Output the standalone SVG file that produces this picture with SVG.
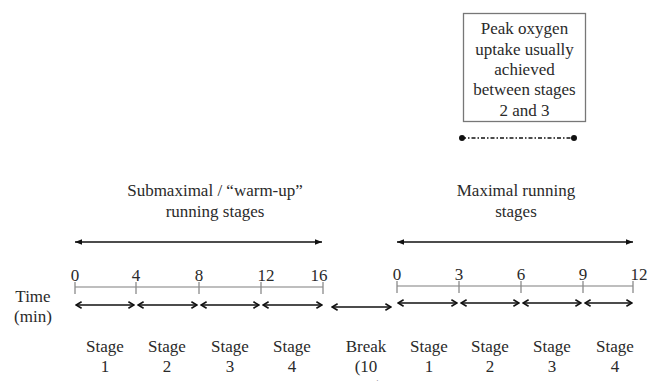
<svg xmlns="http://www.w3.org/2000/svg" width="657" height="381" viewBox="0 0 657 381">
<style>
text{font-family:'Liberation Serif','Times New Roman',serif;font-size:17px;fill:#2a2a2a;text-anchor:middle}
.axis{stroke:#a8a8a8;stroke-width:1.6;fill:none}
.tick{stroke:#8a8a8a;stroke-width:1.3}
.sarr{stroke:#111;stroke-width:1.6;fill:none;marker-start:url(#vs);marker-end:url(#ve)}
.larr{stroke:#111;stroke-width:1.6;fill:none;marker-start:url(#ts);marker-end:url(#te)}
</style>
<defs>
<marker id="ve" viewBox="0 0 10 10" refX="9" refY="5" markerWidth="8" markerHeight="8" markerUnits="userSpaceOnUse" orient="auto"><path d="M2,1 L9,5 L2,9" fill="none" stroke="#111" stroke-width="2"/></marker>
<marker id="vs" viewBox="0 0 10 10" refX="1" refY="5" markerWidth="8" markerHeight="8" markerUnits="userSpaceOnUse" orient="auto"><path d="M8,1 L1,5 L8,9" fill="none" stroke="#111" stroke-width="2"/></marker>
<marker id="te" viewBox="0 0 10 10" refX="10" refY="5" markerWidth="8" markerHeight="7" markerUnits="userSpaceOnUse" orient="auto"><path d="M0,1 L10,5 L0,9 Z" fill="#111"/></marker>
<marker id="ts" viewBox="0 0 10 10" refX="0" refY="5" markerWidth="8" markerHeight="7" markerUnits="userSpaceOnUse" orient="auto"><path d="M10,1 L0,5 L10,9 Z" fill="#111"/></marker>
</defs>
<rect width="657" height="381" fill="#fff"/>

<g id="peak-box">
<rect x="463.5" y="13.5" width="122" height="108" fill="#fff" stroke="#777" stroke-width="1.3"/>
<text x="524.5" y="34">Peak oxygen</text>
<text x="524.5" y="54.5">uptake usually</text>
<text x="524.5" y="75">achieved</text>
<text x="524.5" y="95">between stages</text>
<text x="524.5" y="115.5">2 and 3</text>
</g>

<g id="peak-range">
<line x1="462" y1="138" x2="574" y2="138" stroke="#111" stroke-width="1.5" stroke-dasharray="4,2,1.5,2"/>
<circle cx="462" cy="138" r="3" fill="#111"/>
<circle cx="574" cy="138" r="3" fill="#111"/>
</g>

<g id="sub-label">
<text x="215" y="196">Submaximal / &#8220;warm-up&#8221;</text>
<text x="215" y="217">running stages</text>
</g>
<g id="max-label">
<text x="516" y="196">Maximal running</text>
<text x="516" y="217">stages</text>
</g>

<g id="time-label">
<text x="33" y="302">Time</text>
<text x="33" y="322">(min)</text>
</g>

<g id="axis-left">
<line class="axis" x1="75" y1="287" x2="323" y2="287"/>
<line class="tick" x1="75" y1="282" x2="75" y2="294"/>
<line class="tick" x1="136" y1="282" x2="136" y2="294"/>
<line class="tick" x1="199" y1="282" x2="199" y2="294"/>
<line class="tick" x1="261" y1="282" x2="261" y2="294"/>
<line class="tick" x1="323" y1="282" x2="323" y2="294"/>
<text x="75" y="281">0</text>
<text x="136" y="281">4</text>
<text x="199" y="281">8</text>
<text x="266" y="281">12</text>
<text x="319" y="281">16</text>
</g>

<g id="axis-right">
<line class="axis" x1="397" y1="286" x2="633" y2="286"/>
<line class="tick" x1="397" y1="281" x2="397" y2="293"/>
<line class="tick" x1="459" y1="281" x2="459" y2="293"/>
<line class="tick" x1="521" y1="281" x2="521" y2="293"/>
<line class="tick" x1="583" y1="281" x2="583" y2="293"/>
<line class="tick" x1="633" y1="281" x2="633" y2="293"/>
<text x="397" y="280">0</text>
<text x="459" y="280">3</text>
<text x="521" y="280">6</text>
<text x="583" y="280">9</text>
<text x="639" y="280">12</text>
</g>

<g id="connectors">
<line class="larr" x1="75" y1="242" x2="322" y2="242"/>
<line class="larr" x1="397" y1="242" x2="633" y2="242"/>
<line class="sarr" x1="76" y1="305" x2="134" y2="305"/>
<line class="sarr" x1="138" y1="305" x2="197" y2="305"/>
<line class="sarr" x1="201" y1="305" x2="259" y2="305"/>
<line class="sarr" x1="263" y1="305" x2="322" y2="305"/>
<line class="sarr" x1="332" y1="307" x2="391" y2="307"/>
<line class="sarr" x1="398" y1="303" x2="457" y2="303"/>
<line class="sarr" x1="461" y1="303" x2="519" y2="303"/>
<line class="sarr" x1="523" y1="303" x2="581" y2="303"/>
<line class="sarr" x1="585" y1="303" x2="632" y2="303"/>
</g>

<g id="stage-l1"><text x="105" y="352">Stage</text><text x="105" y="372">1</text></g>
<g id="stage-l2"><text x="167" y="352">Stage</text><text x="167" y="372">2</text></g>
<g id="stage-l3"><text x="230" y="352">Stage</text><text x="230" y="372">3</text></g>
<g id="stage-l4"><text x="292" y="352">Stage</text><text x="292" y="372">4</text></g>
<g id="break"><text x="366" y="352">Break</text><text x="366" y="372">(10</text><text x="366" y="392">min)</text></g>
<g id="stage-r1"><text x="429" y="352">Stage</text><text x="429" y="372">1</text></g>
<g id="stage-r2"><text x="490" y="352">Stage</text><text x="490" y="372">2</text></g>
<g id="stage-r3"><text x="552" y="352">Stage</text><text x="552" y="372">3</text></g>
<g id="stage-r4"><text x="615" y="352">Stage</text><text x="615" y="372">4</text></g>
</svg>
